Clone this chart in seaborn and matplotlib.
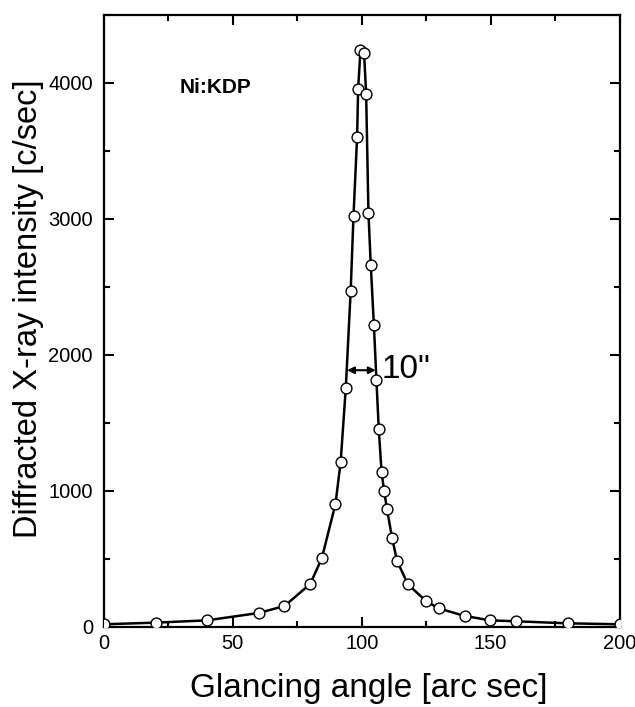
import matplotlib
matplotlib.use("Agg")
import matplotlib.pyplot as plt
import seaborn as sns
import pandas as pd
from matplotlib.ticker import MultipleLocator

# Data
angle = [0, 20, 40, 60, 70, 80, 84.5, 89.8, 91.8, 93.8, 95.7, 96.8, 98.2, 98.6,
         99.5, 100.9, 101.7, 102.6, 103.5, 104.7, 105.7, 106.6, 107.7, 108.7,
         109.8, 111.8, 113.7, 117.9, 124.9, 129.8, 140, 149.8, 159.8, 179.9, 200]
intensity = [20, 32, 49, 103, 154, 316, 505, 904, 1210, 1754, 2469, 3025, 3603, 3958,
             4240, 4220, 3921, 3044, 2660, 2224, 1815, 1453, 1137, 999,
             865, 652, 486, 314, 191, 137, 81, 49, 42, 27, 20]
x_ticks = [0, 50, 100, 150, 200]
y_ticks = [0, 1000, 2000, 3000, 4000]

df = pd.DataFrame({"angle": angle, "intensity": intensity})

sns.set_style("ticks")
plt.rcParams["font.family"] = ["Liberation Sans", "DejaVu Sans"]
for k in ["text.color", "axes.labelcolor", "xtick.color", "ytick.color", "axes.edgecolor"]:
    plt.rcParams[k] = "black"

fig = plt.figure(figsize=(6.35, 7.07), dpi=100)
ax = fig.add_axes([104 / 635, 80 / 707, (619.5 - 104) / 635, (627 - 15) / 707])

sns.lineplot(data=df, x="angle", y="intensity", ax=ax, color="black", lw=1.8,
             sort=False, marker="o", markersize=7.8, markerfacecolor="white",
             markeredgecolor="black", markeredgewidth=1.0, zorder=3)

ax.set_xlim(0, 200)
ax.set_ylim(0, 4500)
ax.set_xticks(x_ticks)
ax.set_yticks(y_ticks)
ax.set_xticklabels([str(v) for v in x_ticks])
ax.set_yticklabels([str(v) for v in y_ticks])
ax.xaxis.set_minor_locator(MultipleLocator(25))
ax.yaxis.set_minor_locator(MultipleLocator(500))
ax.tick_params(which="both", direction="in", top=True, right=True, width=1.5,
               labelsize=14.5)
ax.tick_params(axis="x", which="major", pad=5)
ax.tick_params(axis="y", which="major", pad=8)
ax.tick_params(which="major", length=7)
ax.tick_params(which="minor", length=4.5)
for s in ax.spines.values():
    s.set_linewidth(1.6)
    s.set_visible(True)
    s.set_color("black")

ax.set_xlabel("Glancing angle [arc sec]", fontsize=24, va="baseline", ha="center")
ax.xaxis.set_label_coords(0.513, -0.114)
ax.set_ylabel("Diffracted X-ray intensity [c/sec]", fontsize=23.5, va="center", ha="center")
ax.yaxis.set_label_coords(-0.147, 0.52)

ax.text(29.4, 3964, "Ni:KDP", fontsize=15, fontweight="bold", va="center", ha="left")
ax.annotate("", xy=(94.3, 1888), xytext=(105.4, 1888),
            arrowprops=dict(arrowstyle="<|-|>", color="black", lw=1.5,
                            mutation_scale=10, shrinkA=0, shrinkB=0))
ax.text(107.8, 1896, "10\"", fontsize=24, va="center", ha="left")

fig.savefig("out.png", dpi=100)
